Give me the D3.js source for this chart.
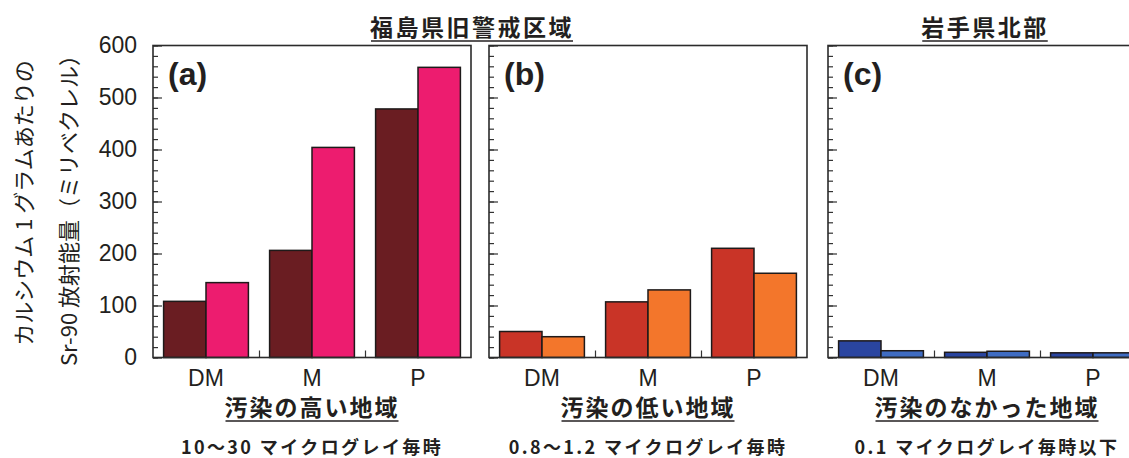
<!DOCTYPE html>
<html><head><meta charset="utf-8">
<script src="https://cdn.jsdelivr.net/npm/d3@7"></script>
<style>body{margin:0;background:#fff}svg{display:block}</style>
</head><body>
<svg id="chart" width="1129" height="458"></svg>
<script>
const categories = ["DM", "M", "P"];
const panelLetters = ["(a)", "(b)", "(c)"];
const valuesHigh1 = [108, 206, 478];
const valuesHigh2 = [144, 404, 558];
const valuesLow1 = [50, 107, 210];
const valuesLow2 = [40, 130, 162];
const valuesNone1 = [32, 10, 9];
const valuesNone2 = [13, 12, 9];
const yTicks = [0, 100, 200, 300, 400, 500, 600];
const regionLabels = ["汚染の高い地域", "汚染の低い地域", "汚染のなかった地域"];
const doseLabels = ["10〜30 マイクログレイ毎時", "0.8〜1.2 マイクログレイ毎時", "0.1 マイクログレイ毎時以下"];
const groupTitles = ["福島県旧警戒区域", "岩手県北部"];
const yTitleLines = ["カルシウム 1 グラムあたりの", "Sr-90 放射能量（ミリベクレル）"];

const panels = [
  {s1: valuesHigh1, s2: valuesHigh2, c1: "#6a1d22", c2: "#ed1c6f"},
  {s1: valuesLow1, s2: valuesLow2, c1: "#c93427", c2: "#f3762b"},
  {s1: valuesNone1, s2: valuesNone2, c1: "#2a45a0", c2: "#3f6cc2"}
];

const svg = d3.select("#chart");
const JP = "'Noto Sans CJK JP', 'Noto Sans', sans-serif";
const LAT = "'Liberation Sans', Arial, sans-serif";
const ink = "#231f20";
const panelX = [153, 489, 828];
const W = 318, plotTop = 45.5, plotBottom = 357.5;

const y = d3.scaleLinear().domain([0, 600]).range([plotBottom, plotTop]);

function underline(sel) {
  sel.each(function() {
    const bb = this.getBBox();
    const yy = +d3.select(this).attr("y") + 5;
    d3.select(this.parentNode).append("line")
      .attr("x1", bb.x + 1).attr("x2", bb.x + bb.width - 1)
      .attr("y1", yy).attr("y2", yy)
      .attr("stroke", ink).attr("stroke-width", 1.6);
  });
}

panels.forEach((p, i) => {
  const g = svg.append("g").attr("transform", `translate(${panelX[i]},0)`);
  const x = d3.scaleBand().domain(categories).range([0, W]).paddingInner(0.2).paddingOuter(0.1);
  const xs = d3.scaleBand().domain([0, 1]).range([0, x.bandwidth()]);
  const xb = d3.scaleLinear().domain([0, categories.length]).range([0, W]);

  const data = categories.map((c, k) => ({c, v: [p.s1[k], p.s2[k]]}));
  const grp = g.selectAll("g.cat").data(data).join("g").attr("class", "cat")
    .attr("transform", d => `translate(${x(d.c)},0)`);
  grp.selectAll("rect").data(d => d.v.map((v, j) => ({v, j}))).join("rect")
    .attr("x", d => xs(d.j)).attr("width", xs.bandwidth())
    .attr("y", d => y(d.v)).attr("height", d => y(0) - y(d.v))
    .attr("fill", d => d.j === 0 ? p.c1 : p.c2)
    .attr("stroke", "#1e1a1a").attr("stroke-width", 1.5);

  const yMinor = d3.axisLeft(y).tickValues(d3.range(0, 601, 20)).tickSize(-5).tickFormat("");
  g.append("g").call(yMinor).call(a => a.select(".domain").remove())
    .selectAll("line").attr("stroke", "#333").attr("stroke-width", 1.2);
  const yMajor = d3.axisLeft(y).tickValues(yTicks).tickSize(-9).tickPadding(16)
    .tickFormat(i === 0 ? d3.format("d") : () => "");
  const ya = g.append("g").call(yMajor).call(a => a.select(".domain").remove());
  ya.selectAll("line").attr("stroke", "#333").attr("stroke-width", 1.2);
  ya.selectAll("text").attr("font-family", LAT).attr("font-size", 23).attr("fill", ink).attr("dy", "0.3em");

  const xt = d3.axisBottom(xb).tickValues(d3.range(1, categories.length)).tickSize(-7).tickFormat("");
  g.append("g").attr("transform", `translate(0,${plotBottom})`).call(xt)
    .call(a => a.select(".domain").remove())
    .selectAll("line").attr("stroke", "#333").attr("stroke-width", 1.2);

  const xa = d3.axisBottom(x).tickSize(0).tickPadding(12);
  const xg = g.append("g").attr("transform", `translate(0,${plotBottom})`).call(xa);
  xg.select(".domain").remove();
  xg.selectAll("text").attr("font-family", LAT).attr("font-size", 23).attr("fill", ink);

  g.append("rect").attr("x", 0).attr("y", plotTop).attr("width", W).attr("height", plotBottom - plotTop)
    .attr("fill", "none").attr("stroke", "#2b2b2b").attr("stroke-width", 1.6);

  g.append("text").attr("x", 15).attr("y", 85).text(panelLetters[i])
    .attr("font-family", LAT).attr("font-weight", "bold").attr("font-size", 32).attr("fill", ink);

  const rl = g.append("g").append("text").attr("x", W / 2).attr("y", 416).attr("text-anchor", "middle")
    .attr("font-family", JP).attr("font-weight", "bold").attr("font-size", 23).attr("letter-spacing", 2)
    .attr("fill", ink).text(regionLabels[i]);
  underline(rl);

  g.append("text").attr("x", W / 2).attr("y", 454).attr("text-anchor", "middle")
    .attr("font-family", JP).attr("font-weight", "bold").attr("font-size", 18).attr("letter-spacing", 2.4)
    .attr("fill", ink).text(doseLabels[i]);
});

const t1 = svg.append("g").append("text").attr("x", (panelX[0] + panelX[1] + W) / 2 - 8).attr("y", 36)
  .attr("text-anchor", "middle").attr("font-family", JP).attr("font-weight", "bold").attr("font-size", 23)
  .attr("letter-spacing", 2.5).attr("fill", ink).text(groupTitles[0]);
underline(t1);
const t2 = svg.append("g").append("text").attr("x", panelX[2] + W / 2 - 2).attr("y", 36)
  .attr("text-anchor", "middle").attr("font-family", JP).attr("font-weight", "bold").attr("font-size", 23)
  .attr("letter-spacing", 2.5).attr("fill", ink).text(groupTitles[1]);
underline(t2);

const yt = svg.append("g");
yt.append("text").attr("transform", "translate(32,203) rotate(-90)").attr("text-anchor", "middle")
  .attr("font-family", JP).attr("font-size", 22).attr("fill", ink).text(yTitleLines[0]);
yt.append("text").attr("transform", "translate(77,205) rotate(-90)").attr("text-anchor", "middle")
  .attr("font-family", JP).attr("font-size", 22).attr("fill", ink).text(yTitleLines[1]);
</script>
</body></html>
